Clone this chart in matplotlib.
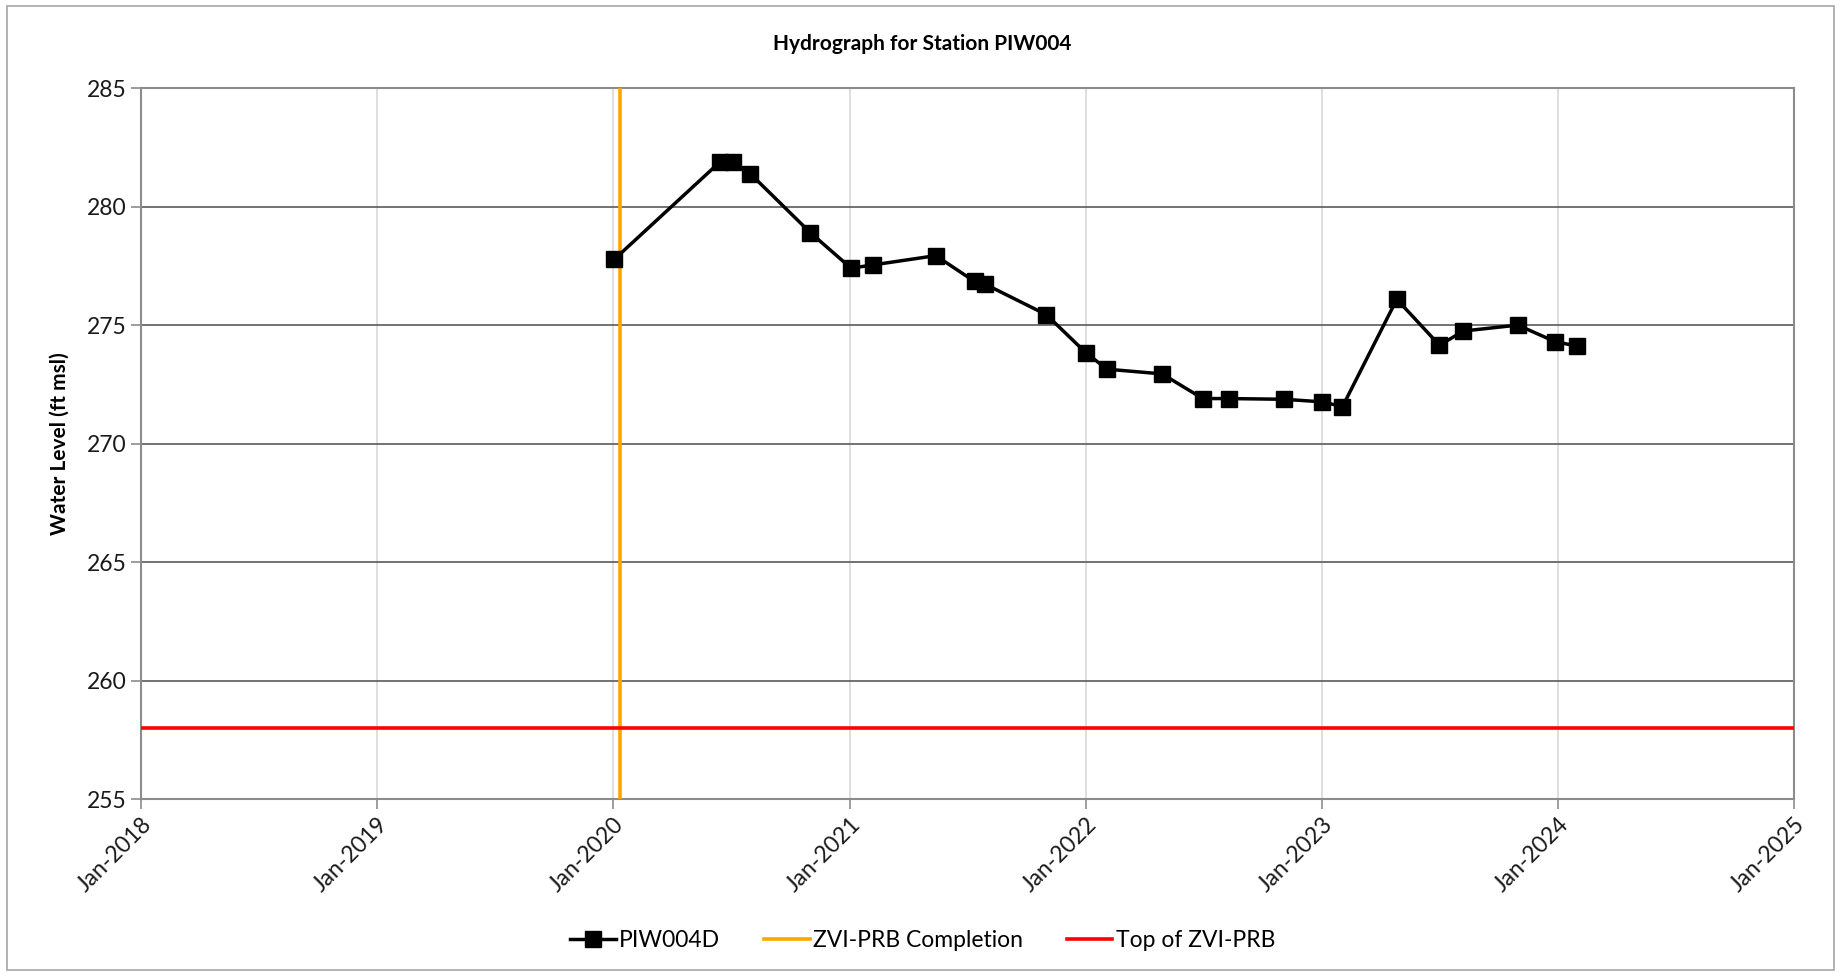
import numpy as np
import matplotlib
matplotlib.use("Agg")
import matplotlib.pyplot as plt
import matplotlib.dates as mdates
from matplotlib.patches import Rectangle
from datetime import datetime

# données
dates = ["2020-01-03", "2020-06-14", "2020-07-05", "2020-07-31", "2020-11-01",
         "2021-01-03", "2021-02-06", "2021-05-14", "2021-07-13", "2021-07-29",
         "2021-11-01", "2022-01-02", "2022-02-03", "2022-04-29", "2022-07-01",
         "2022-08-10", "2022-11-04", "2023-01-02", "2023-02-02", "2023-04-27",
         "2023-07-02", "2023-08-08", "2023-10-31", "2023-12-28", "2024-01-30"]
levels = [277.79, 281.89, 281.89, 281.40, 278.91,
          277.41, 277.55, 277.94, 276.85, 276.74,
          275.45, 273.82, 273.15, 272.95, 271.91,
          271.91, 271.88, 271.77, 271.57, 276.10,
          274.16, 274.76, 275.01, 274.31, 274.13]
completion_date = "2020-01-12"
top_prb = 258.0
year_ticks = [2018, 2019, 2020, 2021, 2022, 2023, 2024, 2025]

plt.rcParams['font.family'] = ['Lato', 'DejaVu Sans']

x_values = [datetime.strptime(d, "%Y-%m-%d") for d in dates]
ticks = [datetime(y, 1, 1) for y in year_ticks]

fig = plt.figure(figsize=(18.45, 9.76), dpi=100, facecolor='white')
ax = fig.add_axes([0.0765, 0.181, 0.8961, 0.7285])

ax.plot(x_values, levels, color='black', linewidth=2.5, marker='s',
        markersize=11, label='PIW004D', zorder=5)
ax.axvline(datetime.strptime(completion_date, "%Y-%m-%d"), color='#FFA500',
           linewidth=2.6, label='ZVI-PRB Completion', zorder=4)
ax.axhline(top_prb, color='#FF0000', linewidth=2.6, label='Top of ZVI-PRB', zorder=4)

ax.set_xlim(ticks[0], ticks[-1])
ax.set_ylim(255, 285)
ax.set_yticks(np.arange(255, 286, 5))
ax.set_xticks(ticks)
ax.xaxis.set_major_formatter(mdates.DateFormatter('%b-%Y'))
plt.setp(ax.get_xticklabels(), rotation=45, ha='right', rotation_mode='anchor')

ax.grid(axis='y', color='#5a5a5a', linewidth=1.2)
ax.grid(axis='x', color='#d9d9d9', linewidth=1.2)
ax.set_axisbelow(True)
for s in ax.spines.values():
    s.set_color('#8c8c8c')
    s.set_linewidth(1.5)
ax.tick_params(axis='both', colors='#8c8c8c', labelcolor='#1a1a1a',
               labelsize=16.5, length=7, width=1.2)

ax.set_ylabel('Water Level (ft msl)', fontsize=15, fontweight='bold', labelpad=12)
fig.text(0.5, 0.955, 'Hydrograph for Station PIW004', ha='center', va='center',
         fontsize=15, fontweight='bold')

fig.legend(loc='center', bbox_to_anchor=(0.5, 0.036), ncol=3, frameon=False,
           fontsize=16.5, handlelength=2.0, handletextpad=0.15, columnspacing=1.9)

fig.patches.append(Rectangle((0.004, 0.006), 0.99, 0.988, transform=fig.transFigure,
                             fill=False, edgecolor='#a6a6a6', linewidth=1.2))

fig.savefig('out.png', dpi=100, facecolor='white')
